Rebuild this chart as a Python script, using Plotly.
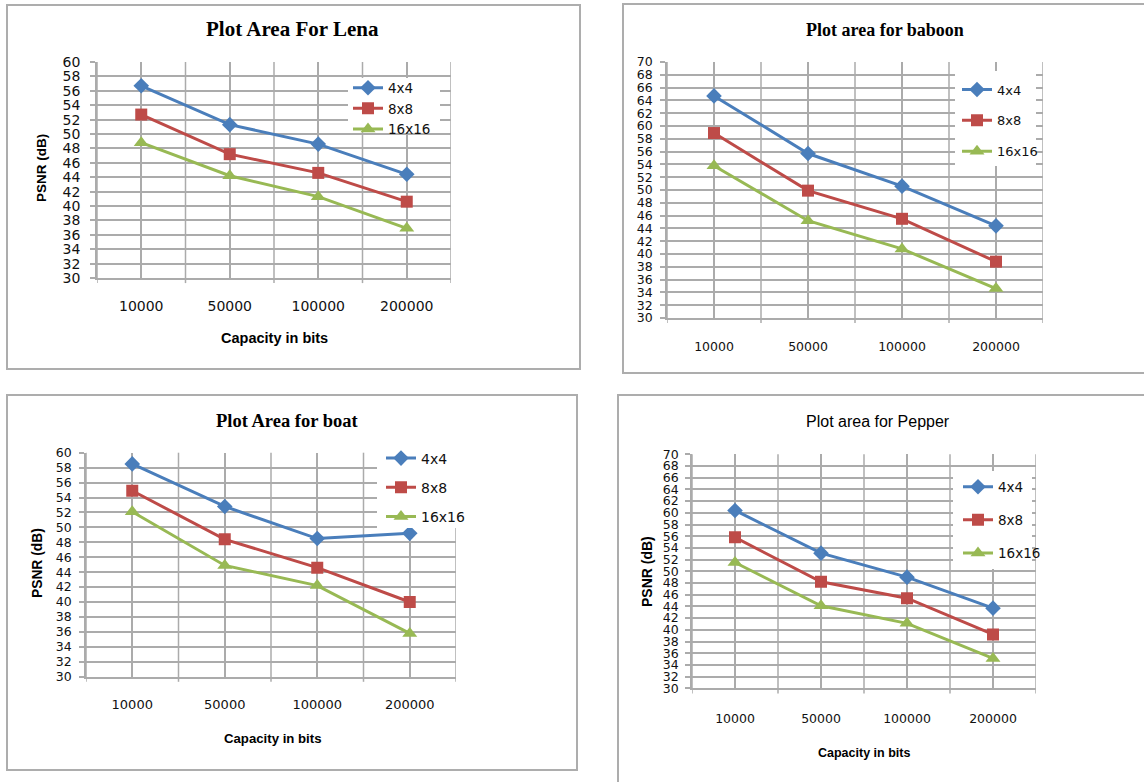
import plotly.graph_objects as go

W, H = 1144, 782
# the page shows the figure's paper between rendered rows 8 and 774
TOP, SPAN = 8, 766


def X(px):
    return px / W


def Y(py):
    return 1 - (py - TOP) / SPAN


# ---------------- data ----------------
categories = ["10000", "50000", "100000", "200000"]
series_names = ["4x4", "8x8", "16x16"]

lena_4x4 = [56.7, 51.3, 48.6, 44.4]
lena_8x8 = [52.7, 47.2, 44.6, 40.6]
lena_16x16 = [48.8, 44.2, 41.3, 36.9]

baboon_4x4 = [64.7, 55.7, 50.6, 44.4]
baboon_8x8 = [58.9, 49.9, 45.5, 38.8]
baboon_16x16 = [53.8, 45.2, 40.8, 34.6]

boat_4x4 = [58.5, 52.8, 48.5, 49.2]
boat_8x8 = [54.9, 48.4, 44.6, 40.0]
boat_16x16 = [52.1, 44.9, 42.2, 35.8]

pepper_4x4 = [60.4, 53.1, 49.0, 43.7]
pepper_8x8 = [55.8, 48.2, 45.4, 39.2]
pepper_16x16 = [51.5, 44.1, 41.1, 35.1]

lena_yrange = [30, 60]
baboon_yrange = [30, 70]
boat_yrange = [30, 60]
pepper_yrange = [30, 70]

titles = ["Plot Area For Lena", "Plot area for baboon", "Plot Area for boat", "Plot area for Pepper"]
y_title = "PSNR (dB)"
x_title = "Capacity in bits"

# ---------------- styles ----------------
colors = ["#4A7EBB", "#BE4B48", "#98B954"]
symbols = ["diamond", "square", "triangle-up"]
msizes = [12, 12, 13]
GRID = "#ABABAB"
FRAME = "#ADADAD"
TICKFONT = "DejaVu Sans"
BOLDFONT = "Liberation Sans"

panels = [
    dict(data=[lena_4x4, lena_8x8, lena_16x16], yr=lena_yrange,
         box=(97, 451, 62, 278), tick=14, xtick=14, ystand=7, xstand=14,
         title=(292, 29, "Liberation Serif", 21, True),
         ytitle=(42, 168, 13.5), xtitle=(274, 338, 14.5),
         leg=(348, 72.5, 13.5, 0), legbox=(348, 440, 78, 132),
         frame=(7, 5, 580, 369)),
    dict(data=[baboon_4x4, baboon_8x8, baboon_16x16], yr=baboon_yrange,
         box=(667, 1043, 62, 318), tick=12.5, xtick=12.5, ystand=5, xstand=16,
         title=(885, 30, "Liberation Serif", 18, True),
         ytitle=None, xtitle=None,
         leg=(957, 74.5, 13, 11), legbox=(955, 1036, 71, 166),
         frame=(623, 4, 1150, 373)),
    dict(data=[boat_4x4, boat_8x8, boat_16x16], yr=boat_yrange,
         box=(86, 456, 452.7, 676.7), tick=12.5, xtick=13, ystand=5, xstand=15,
         title=(287, 421, "Liberation Serif", 18.5, True),
         ytitle=(37, 563, 13.8), xtitle=(272, 738, 13.2),
         leg=(381, 442.5, 14, 8), legbox=(377, 462, 449, 528),
         frame=(7, 395, 577, 770)),
    dict(data=[pepper_4x4, pepper_8x8, pepper_16x16], yr=pepper_yrange,
         box=(692, 1036, 454.3, 688.3), tick=12.5, xtick=12.5, ystand=4, xstand=18,
         title=(878, 421, "Liberation Sans", 16, False),
         ytitle=(647, 572, 14), xtitle=(864, 753, 12.5),
         leg=(958, 471.5, 13.5, 12.5), legbox=(953, 1032, 471, 569),
         frame=(618, 395, 1150, 800)),
]

fig = go.Figure()
shapes = []
annotations = []
layout = dict(
    width=W, height=H, margin=dict(l=0, r=0, t=0, b=0),
    paper_bgcolor="white", plot_bgcolor="white", showlegend=True,
)

for i, p in enumerate(panels):
    n = i + 1
    sfx = "" if n == 1 else str(n)
    xa, ya = "x" + sfx, "y" + sfx
    legname = "legend" + sfx
    for j, vals in enumerate(p["data"]):
        fig.add_trace(go.Scatter(
            x=categories, y=vals, xaxis=xa, yaxis=ya,
            mode="lines+markers", name=series_names[j],
            legend=legname, legendgroup=f"p{n}s{j}",
            line=dict(color=colors[j], width=3),
            marker=dict(symbol=symbols[j], size=msizes[j], color=colors[j]),
            hoverinfo="skip",
        ))
    x0, x1, y0, y1 = p["box"]
    layout["xaxis" + sfx] = dict(
        domain=[X(x0), X(x1)], anchor=ya, type="category",
        range=[-0.5, len(categories) - 0.5],
        showgrid=True, gridcolor=GRID, gridwidth=1.5,
        showline=True, linecolor=GRID, linewidth=1.5,
        ticks="", ticklabelstandoff=p["xstand"],
        tickfont=dict(family=TICKFONT, size=p["xtick"], color="#111"),
        fixedrange=True,
    )
    layout["yaxis" + sfx] = dict(
        domain=[Y(y1), Y(y0)], anchor=xa, range=p["yr"], dtick=2,
        showgrid=True, gridcolor=GRID, gridwidth=1.5,
        showline=True, linecolor=GRID, linewidth=1.5,
        ticks="outside", ticklen=5, tickcolor=GRID, tickwidth=1.5,
        ticklabelstandoff=p["ystand"],
        tickfont=dict(family=TICKFONT, size=p["tick"], color="#111"),
        zeroline=False, fixedrange=True,
    )
    # category boundary gridlines + boundary tick marks
    hpx = (y1 - y0) * SPAN / H
    for b in range(len(categories) + 1):
        shapes.append(dict(
            type="line", xref=xa, yref=ya + " domain",
            x0=b - 0.5, x1=b - 0.5, y0=-5 / hpx, y1=1,
            line=dict(color=GRID, width=1.5), layer="below",
        ))
    # frame
    fx0, fy0, fx1, fy1 = p["frame"]
    shapes.append(dict(
        type="rect", xref="paper", yref="paper",
        x0=X(fx0), x1=X(fx1), y0=Y(fy1), y1=Y(fy0),
        line=dict(color=FRAME, width=2), fillcolor="rgba(0,0,0,0)", layer="below",
    ))
    # legend background box
    bx0, bx1, by0, by1 = p["legbox"]
    shapes.append(dict(
        type="rect", xref="paper", yref="paper",
        x0=X(bx0), x1=X(bx1), y0=Y(by1), y1=Y(by0),
        line=dict(width=0), fillcolor="white", layer="above",
    ))
    # titles
    tx, ty, tfam, tsize, tbold = p["title"]
    annotations.append(dict(
        x=X(tx), y=Y(ty), xref="paper", yref="paper", showarrow=False,
        text=f"<b>{titles[i]}</b>" if tbold else titles[i],
        font=dict(family=tfam, size=tsize, color="#000"),
        xanchor="center", yanchor="middle",
    ))
    if p["ytitle"]:
        ax_, ay_, asz = p["ytitle"]
        annotations.append(dict(
            x=X(ax_), y=Y(ay_), xref="paper", yref="paper", showarrow=False,
            text=f"<b>{y_title}</b>", textangle=-90,
            font=dict(family=BOLDFONT, size=asz, color="#000"),
            xanchor="center", yanchor="middle",
        ))
    if p["xtitle"]:
        ax_, ay_, asz = p["xtitle"]
        annotations.append(dict(
            x=X(ax_), y=Y(ay_), xref="paper", yref="paper", showarrow=False,
            text=f"<b>{x_title}</b>",
            font=dict(family=BOLDFONT, size=asz, color="#000"),
            xanchor="center", yanchor="middle",
        ))
    lx, ly, lsize, lgap = p["leg"]
    layout[legname] = dict(
        x=X(lx), y=Y(ly), xanchor="left", yanchor="top",
        xref="paper", yref="paper",
        bgcolor="rgba(0,0,0,0)", borderwidth=0,
        font=dict(family=TICKFONT, size=lsize, color="#111"),
        traceorder="grouped", tracegroupgap=lgap,
    )

layout["shapes"] = shapes
layout["annotations"] = annotations
fig.update_layout(**layout)
fig.write_html("out.html")
